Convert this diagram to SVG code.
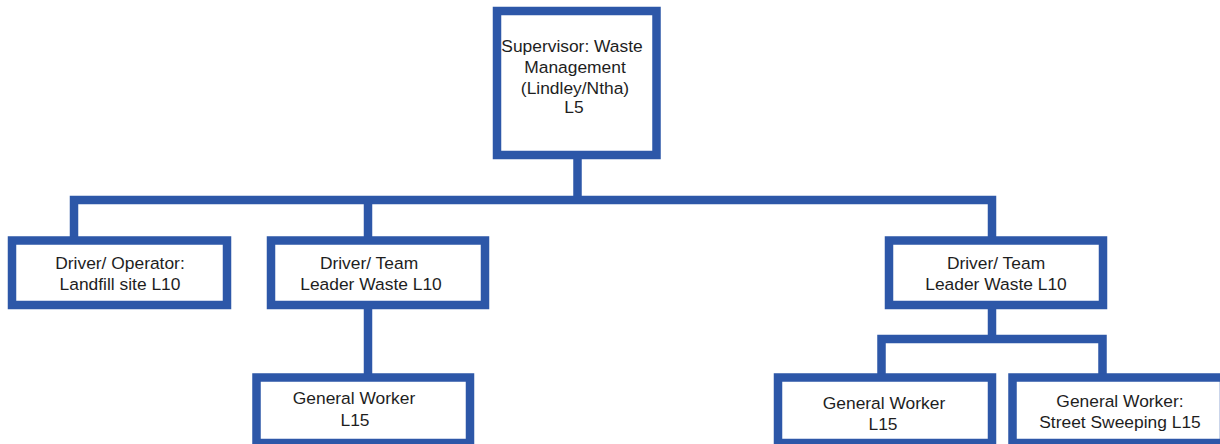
<svg xmlns="http://www.w3.org/2000/svg" width="1220" height="444" viewBox="0 0 1220 444">
  <style>
    .box { fill: #ffffff; stroke: #2d57a8; stroke-width: 8.5; }
    .wire { fill: none; stroke: #2d57a8; stroke-width: 8.5; stroke-linejoin: miter; stroke-linecap: butt; }
    .lbl { font-family: "Liberation Sans", Arial, sans-serif; font-size: 17.4px; fill: #1e1e1e; text-anchor: middle; }
  </style>
  <rect x="0" y="0" width="1220" height="444" fill="#ffffff"/>

  <!-- connectors -->
  <g id="connectors">
    <path class="wire" d="M577.5,155 V200"/>
    <path class="wire" d="M74,237 V200 H992 V237"/>
    <path class="wire" d="M368,200 V237"/>
    <path class="wire" d="M368,305 V374"/>
    <path class="wire" d="M992,305 V339"/>
    <path class="wire" d="M881.5,374 V339 H1102.5 V374"/>
  </g>

  <g id="supervisor">
    <rect class="box" x="497" y="11" width="159.5" height="144"/>
    <text class="lbl" x="572" y="52">Supervisor: Waste</text>
    <text class="lbl" x="575" y="73">Management</text>
    <text class="lbl" x="575" y="94">(Lindley/Ntha)</text>
    <text class="lbl" x="574" y="113">L5</text>
  </g>

  <g id="driver-operator">
    <rect class="box" x="12" y="240.5" width="215" height="64.5"/>
    <text class="lbl" x="120" y="269">Driver/ Operator:</text>
    <text class="lbl" x="120" y="290">Landfill site L10</text>
  </g>

  <g id="team-leader-left">
    <rect class="box" x="271" y="240.5" width="214" height="64.5"/>
    <text class="lbl" x="369" y="269">Driver/ Team</text>
    <text class="lbl" x="371" y="290">Leader Waste L10</text>
  </g>

  <g id="team-leader-right">
    <rect class="box" x="889" y="240.5" width="214" height="64.5"/>
    <text class="lbl" x="996" y="269">Driver/ Team</text>
    <text class="lbl" x="996" y="290">Leader Waste L10</text>
  </g>

  <g id="general-worker-left">
    <rect class="box" x="256.5" y="377.5" width="213.5" height="65.5"/>
    <text class="lbl" x="354" y="404">General Worker</text>
    <text class="lbl" x="355" y="426">L15</text>
  </g>

  <g id="general-worker-right">
    <rect class="box" x="778" y="377.5" width="214" height="65.5"/>
    <text class="lbl" x="884" y="409">General Worker</text>
    <text class="lbl" x="883" y="430">L15</text>
  </g>

  <g id="street-sweeping">
    <rect class="box" x="1012.5" y="377.5" width="211.5" height="65.5"/>
    <text class="lbl" x="1120" y="407">General Worker:</text>
    <text class="lbl" x="1120" y="428">Street Sweeping L15</text>
  </g>
</svg>
